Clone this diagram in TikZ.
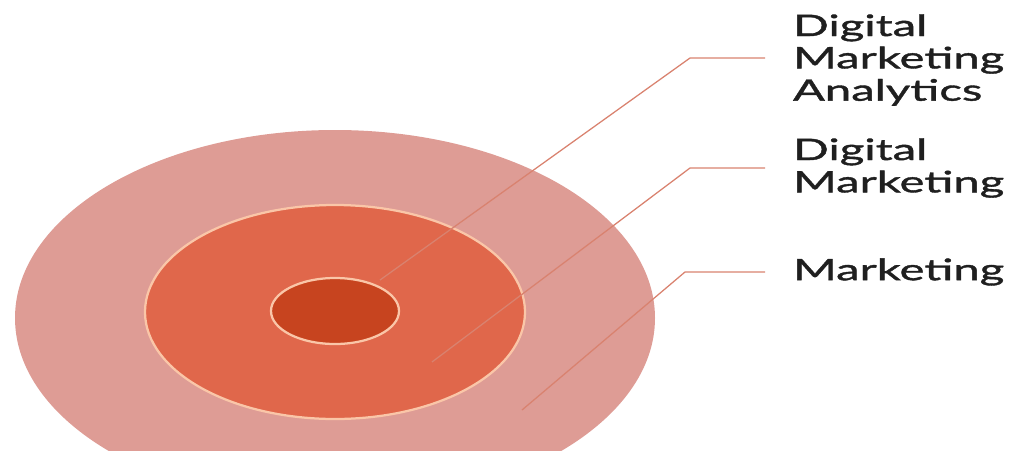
\documentclass[tikz,border=0pt]{standalone}
\usepackage{fontspec}
\setmainfont{Lato}[FakeStretch=1.6,FakeBold=1.3]
\usepackage{xcolor}
\usepackage{tikz}
\definecolor{ringout}{HTML}{DE9C95}
\definecolor{ringmid}{HTML}{E0674B}
\definecolor{ringin}{HTML}{C7441F}
\definecolor{rimcol}{HTML}{FAC6A8}
\definecolor{leadcol}{HTML}{D9826F}

\begin{document}
\begin{tikzpicture}[x=0.025cm,y=-0.025cm,
    ring/.style={draw=rimcol, line width=1.6pt},
    leader/.style={draw=leadcol, line width=0.9pt},
    label/.style={anchor=west, align=left, font=\fontsize{21}{23}\selectfont, text=black!88}]
    % Marco de la imagen
    \useasboundingbox (0,0) rectangle (1021,450);
    \clip (0,0) rectangle (1021,450);
    % Anillos concentricos
    \fill[ringout] (335,318) ellipse (320 and 188);
    \filldraw[ring, fill=ringmid] (335,312) ellipse (190 and 107);
    \filldraw[ring, fill=ringin] (335,311) ellipse (64 and 33);
    % Etiquetas
    \node[label] (dma) at (788,60) {Digital\\Marketing\\Analytics};
    \node[label] (dm) at (788,168) {Digital\\Marketing};
    \node[label] (mk) at (788,272) {Marketing};
    % Puntos de partida, codos y extremos de las lineas
    \coordinate (p1) at (380,280);
    \coordinate (p2) at (432,362);
    \coordinate (p3) at (522,410);
    \coordinate (e1) at (690,58);
    \coordinate (e2) at (690,168);
    \coordinate (e3) at (685,272);
    \coordinate (t1) at (765,58);
    \coordinate (t2) at (765,168);
    \coordinate (t3) at (765,272);
    % Lineas guia
    \draw[leader] (p1) -- (e1) -- (t1);
    \draw[leader] (p2) -- (e2) -- (t2);
    \draw[leader] (p3) -- (e3) -- (t3);
\end{tikzpicture}
\end{document}
